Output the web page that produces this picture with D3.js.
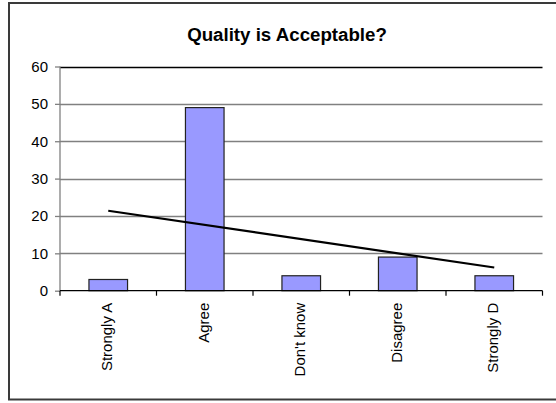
<!DOCTYPE html>
<html>
<head>
<meta charset="utf-8">
<script src="https://cdn.jsdelivr.net/npm/d3@7"></script>
<style>
  html, body { margin: 0; padding: 0; background: #fff; }
  svg { display: block; font-family: "Liberation Sans", Arial, sans-serif; }
</style>
</head>
<body>
<svg id="chart" width="556" height="403"></svg>
<script>
// Survey responses
const categories = ["Strongly A", "Agree", "Don't know", "Disagree", "Strongly D"];
const responses = [3, 49, 4, 9, 4];
const yTicks = [0, 10, 20, 30, 40, 50, 60];
const title = "Quality is Acceptable?";

const svg = d3.select("#chart");

// Chart area frame
svg.append("rect")
  .attr("x", 9).attr("y", 3)
  .attr("width", 570).attr("height", 396.5)
  .attr("fill", "#fff")
  .attr("stroke", "#3a3a3a")
  .attr("stroke-width", 2);

const plot = { left: 60, right: 542.5, top: 66.5, bottom: 290.7 };

const x = d3.scaleBand()
  .domain(categories)
  .range([plot.left, plot.right])
  .paddingInner(0.6).paddingOuter(0.3);

const xOuter = d3.scaleBand()
  .domain(categories)
  .range([plot.left, plot.right]);

const y = d3.scaleLinear()
  .domain([0, 60])
  .range([plot.bottom, plot.top]);

// Gridlines
svg.append("g")
  .selectAll("line")
  .data(yTicks.filter(d => d > 0))
  .join("line")
  .attr("x1", plot.left).attr("x2", plot.right)
  .attr("y1", d => Math.round(y(d)) + 0.5).attr("y2", d => Math.round(y(d)) + 0.5)
  .attr("stroke", d => d === 60 ? "#000" : "#808080")
  .attr("stroke-width", 1.3);

// Y axis
const yAxis = svg.append("g")
  .attr("transform", `translate(${plot.left},0)`)
  .call(d3.axisLeft(y).tickValues(yTicks).tickSize(5).tickPadding(7).tickFormat(d3.format("d")));
yAxis.select(".domain").attr("stroke", "#808080").attr("stroke-width", 1.3).attr("d", `M0,${plot.top}V${plot.bottom}`);
yAxis.selectAll(".tick line").attr("stroke", "#808080").attr("stroke-width", 1.3);
yAxis.selectAll(".tick text")
  .attr("font-size", 15).attr("fill", "#000")
  .attr("font-family", "'Liberation Sans', Arial, sans-serif");

// Bars
svg.append("g")
  .selectAll("rect")
  .data(categories.map((c, i) => ({ c, v: responses[i] })))
  .join("rect")
  .attr("x", d => x(d.c))
  .attr("width", x.bandwidth())
  .attr("y", d => y(d.v))
  .attr("height", d => y(0) - y(d.v))
  .attr("fill", "#9999FF")
  .attr("stroke", "#222")
  .attr("stroke-width", 1.2);

// X axis
const xAxis = svg.append("g")
  .attr("transform", `translate(0,${plot.bottom})`);
xAxis.append("line")
  .attr("x1", plot.left).attr("x2", plot.right)
  .attr("y1", 0).attr("y2", 0)
  .attr("stroke", "#000").attr("stroke-width", 1.3);
const boundaries = categories.map(c => xOuter(c)).concat([plot.right]);
xAxis.selectAll("line.tk")
  .data(boundaries)
  .join("line")
  .attr("class", "tk")
  .attr("x1", d => d).attr("x2", d => d)
  .attr("y1", 0).attr("y2", 5)
  .attr("stroke", "#000").attr("stroke-width", 1.2);
xAxis.selectAll("text")
  .data(categories)
  .join("text")
  .attr("transform", d => `translate(${xOuter(d) + xOuter.bandwidth() / 2 + 4},12) rotate(-90)`)
  .attr("text-anchor", "end")
  .attr("font-size", 15)
  .attr("fill", "#000")
  .text(d => d);

// Linear trendline (least squares over category positions 1..n)
const n = responses.length;
const xs = d3.range(1, n + 1);
const mx = d3.mean(xs), my = d3.mean(responses);
const slope = d3.sum(xs, (v, i) => (v - mx) * (responses[i] - my)) / d3.sum(xs, v => (v - mx) ** 2);
const intercept = my - slope * mx;
const trend = [
  { c: categories[0], v: intercept + slope * 1 },
  { c: categories[n - 1], v: intercept + slope * n }
];
svg.append("path")
  .datum(trend)
  .attr("fill", "none")
  .attr("stroke", "#000")
  .attr("stroke-width", 2.2)
  .attr("d", d3.line()
    .x(d => xOuter(d.c) + xOuter.bandwidth() / 2)
    .y(d => y(d.v)));

// Title
svg.append("text")
  .attr("x", 287).attr("y", 40.5)
  .attr("text-anchor", "middle")
  .attr("font-size", 18.7)
  .attr("font-weight", "bold")
  .attr("fill", "#000")
  .text(title);
</script>
</body>
</html>
